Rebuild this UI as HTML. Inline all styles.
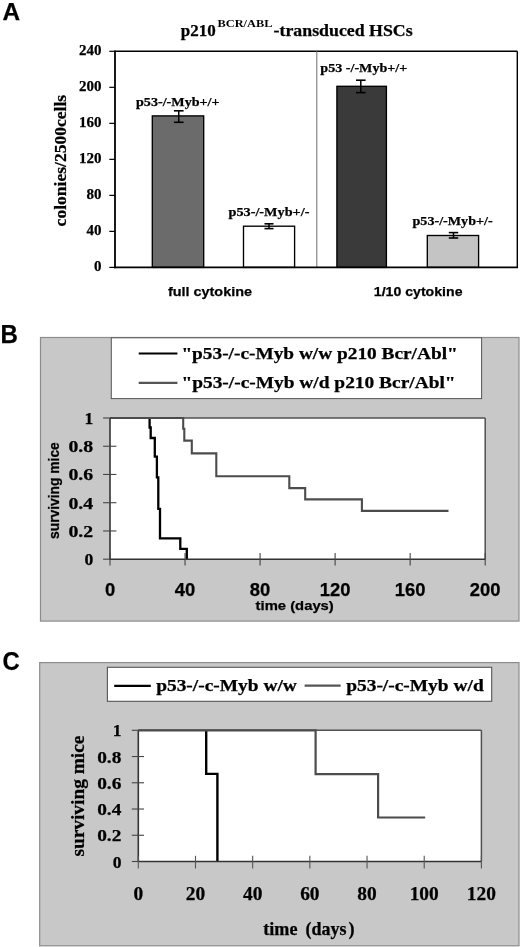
<!DOCTYPE html>
<html><head><meta charset="utf-8"><title>Figure</title>
<style>
html,body{margin:0;padding:0;background:#fff;}
body{width:520px;height:947px;overflow:hidden;font-family:"Liberation Serif",serif;}
svg{display:block;filter:grayscale(1);}
text{stroke:#000;stroke-width:0.25px;paint-order:stroke;}
</style></head><body>
<svg width="520" height="947" viewBox="0 0 520 947">
<rect x="0" y="0" width="520" height="947" fill="#fff"/>
<text x="2.6" y="19.7" font-family='"Liberation Sans", sans-serif' font-size="24.5" font-weight="bold" fill="#000" text-anchor="start" textLength="17.6" lengthAdjust="spacingAndGlyphs" >A</text>
<text y="36.1" font-family='"Liberation Serif", serif' font-weight="bold" fill="#000"><tspan x="180.7" font-size="17" textLength="35" lengthAdjust="spacingAndGlyphs">p210</tspan><tspan x="217.6" y="26.6" font-size="10.4" stroke-width="0" textLength="54.8" lengthAdjust="spacingAndGlyphs">BCR/ABL</tspan><tspan x="273.6" y="36.1" font-size="17" textLength="139" lengthAdjust="spacingAndGlyphs">-transduced HSCs</tspan></text>
<line x1="115.0" y1="51.3" x2="517.3" y2="51.3" stroke="#000" stroke-width="1.4"/>
<line x1="517.3" y1="51.3" x2="517.3" y2="267.4" stroke="#000" stroke-width="1.4"/>
<line x1="316.8" y1="51.3" x2="316.8" y2="267.4" stroke="#7a7a7a" stroke-width="1.1"/>
<rect x="152.3" y="115.9" width="51.39999999999998" height="151.49999999999997" fill="#6b6b6b" stroke="#000" stroke-width="1.35"/>
<rect x="243.5" y="226.2" width="51.10000000000002" height="41.19999999999999" fill="#ffffff" stroke="#000" stroke-width="1.35"/>
<rect x="336.9" y="86.3" width="49.5" height="181.09999999999997" fill="#3a3a3a" stroke="#000" stroke-width="1.35"/>
<rect x="427.3" y="235.5" width="51.30000000000001" height="31.899999999999977" fill="#c4c4c4" stroke="#000" stroke-width="1.35"/>
<line x1="178.75" y1="110.8" x2="178.75" y2="122.3" stroke="#000" stroke-width="1.5"/>
<line x1="173.9" y1="110.8" x2="183.6" y2="110.8" stroke="#000" stroke-width="1.6"/>
<line x1="173.9" y1="122.3" x2="183.6" y2="122.3" stroke="#000" stroke-width="1.6"/>
<line x1="269.0" y1="223.8" x2="269.0" y2="228.6" stroke="#000" stroke-width="1.5"/>
<line x1="264.5" y1="223.8" x2="273.5" y2="223.8" stroke="#000" stroke-width="1.6"/>
<line x1="264.5" y1="228.6" x2="273.5" y2="228.6" stroke="#000" stroke-width="1.6"/>
<line x1="360.8" y1="80.2" x2="360.8" y2="92.6" stroke="#000" stroke-width="1.5"/>
<line x1="356.0" y1="80.2" x2="365.6" y2="80.2" stroke="#000" stroke-width="1.6"/>
<line x1="356.0" y1="92.6" x2="365.6" y2="92.6" stroke="#000" stroke-width="1.6"/>
<line x1="453.5" y1="232.6" x2="453.5" y2="238.0" stroke="#000" stroke-width="1.5"/>
<line x1="448.8" y1="232.6" x2="458.2" y2="232.6" stroke="#000" stroke-width="1.6"/>
<line x1="448.8" y1="238.0" x2="458.2" y2="238.0" stroke="#000" stroke-width="1.6"/>
<line x1="115.0" y1="50.599999999999994" x2="115.0" y2="268.2" stroke="#000" stroke-width="1.8"/>
<line x1="114.1" y1="267.4" x2="518.0" y2="267.4" stroke="#000" stroke-width="1.6"/>
<line x1="109.3" y1="51.30000000000001" x2="115.0" y2="51.30000000000001" stroke="#000" stroke-width="1.2"/>
<text x="101.6" y="54.90000000000001" font-family='"Liberation Serif", serif' font-size="15" font-weight="bold" fill="#000" text-anchor="end" >240</text>
<line x1="109.3" y1="87.31666666666666" x2="115.0" y2="87.31666666666666" stroke="#000" stroke-width="1.2"/>
<text x="101.6" y="90.91666666666666" font-family='"Liberation Serif", serif' font-size="15" font-weight="bold" fill="#000" text-anchor="end" >200</text>
<line x1="109.3" y1="123.33333333333334" x2="115.0" y2="123.33333333333334" stroke="#000" stroke-width="1.2"/>
<text x="101.6" y="126.93333333333334" font-family='"Liberation Serif", serif' font-size="15" font-weight="bold" fill="#000" text-anchor="end" >160</text>
<line x1="109.3" y1="159.35" x2="115.0" y2="159.35" stroke="#000" stroke-width="1.2"/>
<text x="101.6" y="162.95" font-family='"Liberation Serif", serif' font-size="15" font-weight="bold" fill="#000" text-anchor="end" >120</text>
<line x1="109.3" y1="195.36666666666667" x2="115.0" y2="195.36666666666667" stroke="#000" stroke-width="1.2"/>
<text x="101.6" y="198.96666666666667" font-family='"Liberation Serif", serif' font-size="15" font-weight="bold" fill="#000" text-anchor="end" >80</text>
<line x1="109.3" y1="231.38333333333333" x2="115.0" y2="231.38333333333333" stroke="#000" stroke-width="1.2"/>
<text x="101.6" y="234.98333333333332" font-family='"Liberation Serif", serif' font-size="15" font-weight="bold" fill="#000" text-anchor="end" >40</text>
<line x1="109.3" y1="267.4" x2="115.0" y2="267.4" stroke="#000" stroke-width="1.2"/>
<text x="101.6" y="271.0" font-family='"Liberation Serif", serif' font-size="15" font-weight="bold" fill="#000" text-anchor="end" >0</text>
<text transform="translate(65.8,160.6) rotate(-90)" text-anchor="middle" font-family='"Liberation Serif", serif' font-size="16" font-weight="bold" textLength="131.6" lengthAdjust="spacingAndGlyphs">colonies/2500cells</text>
<text x="136.0" y="105.6" font-family='"Liberation Serif", serif' font-size="13" font-weight="bold" fill="#000" text-anchor="start" textLength="83.6" lengthAdjust="spacingAndGlyphs" >p53-/-Myb+/+</text>
<text x="228.5" y="215.9" font-family='"Liberation Serif", serif' font-size="13" font-weight="bold" fill="#000" text-anchor="start" textLength="80.9" lengthAdjust="spacingAndGlyphs" >p53-/-Myb+/-</text>
<text x="320.3" y="71.6" font-family='"Liberation Serif", serif' font-size="13" font-weight="bold" fill="#000" text-anchor="start" textLength="87.0" lengthAdjust="spacingAndGlyphs" >p53 -/-Myb+/+</text>
<text x="412.5" y="225.0" font-family='"Liberation Serif", serif' font-size="13" font-weight="bold" fill="#000" text-anchor="start" textLength="80.2" lengthAdjust="spacingAndGlyphs" >p53-/-Myb+/-</text>
<text x="167.9" y="295.8" font-family='"Liberation Sans", sans-serif' font-size="13.6" font-weight="bold" fill="#000" text-anchor="start" textLength="84.1" lengthAdjust="spacingAndGlyphs" >full cytokine</text>
<text x="373.8" y="295.8" font-family='"Liberation Sans", sans-serif' font-size="13.6" font-weight="bold" fill="#000" text-anchor="start" textLength="88.7" lengthAdjust="spacingAndGlyphs" >1/10 cytokine</text>
<text x="0.4" y="342.8" font-family='"Liberation Sans", sans-serif' font-size="25" font-weight="bold" fill="#000" text-anchor="start" textLength="17.4" lengthAdjust="spacingAndGlyphs" >B</text>
<rect x="40.5" y="337.5" width="478.5" height="283.6" fill="#c8c8c8" stroke="#8c8c8c" stroke-width="1.2"/>
<rect x="111.3" y="337.8" width="370.3" height="60.8" fill="#ffffff" stroke="#555" stroke-width="1.0"/>
<line x1="138.7" y1="353.5" x2="177.4" y2="353.5" stroke="#000" stroke-width="2.2"/>
<line x1="138.7" y1="382.8" x2="177.4" y2="382.8" stroke="#555" stroke-width="2.2"/>
<text x="181.4" y="359.0" font-family='"Liberation Serif", serif' font-size="17" font-weight="bold" fill="#000" text-anchor="start" textLength="276.4" lengthAdjust="spacingAndGlyphs" >"p53-/-c-Myb w/w p210 Bcr/Abl"</text>
<text x="181.4" y="387.9" font-family='"Liberation Serif", serif' font-size="17" font-weight="bold" fill="#000" text-anchor="start" textLength="274.2" lengthAdjust="spacingAndGlyphs" >"p53-/-c-Myb w/d p210 Bcr/Abl"</text>
<rect x="110.0" y="418.0" width="375.2" height="141.20000000000005" fill="#ffffff" stroke="none" stroke-width="0"/>
<line x1="110.0" y1="418.0" x2="485.2" y2="418.0" stroke="#505050" stroke-width="1.6"/>
<line x1="485.2" y1="418.0" x2="485.2" y2="559.2" stroke="#505050" stroke-width="1.5"/>
<polyline points="149.6,418.0 149.6,427.5 150.7,427.5 150.7,438.0 154.8,438.0 154.8,456.7 156.9,456.7 156.9,477.4 158.3,477.4 158.3,508.8 160.0,508.8 160.0,538.3 180.3,538.3 180.3,548.8 186.8,548.8 186.8,559.2" fill="none" stroke="#000" stroke-width="2.3" stroke-linejoin="miter" stroke-linecap="butt"/>
<polyline points="110.0,418.0 183.2,418.0 183.2,428.8 184.3,428.8 184.3,440.6 191.8,440.6 191.8,453.4 216.3,453.4 216.3,476.3 289.3,476.3 289.3,488.1 305.2,488.1 305.2,499.4 361.9,499.4 361.9,510.9 448.5,510.9" fill="none" stroke="#4c4c4c" stroke-width="2.1" stroke-linejoin="miter" stroke-linecap="butt"/>
<line x1="110.0" y1="418.0" x2="110.0" y2="559.7" stroke="#333" stroke-width="1.6"/>
<line x1="109.5" y1="559.2" x2="485.2" y2="559.2" stroke="#333" stroke-width="1.5"/>
<line x1="103.1" y1="418.0" x2="110.0" y2="418.0" stroke="#444" stroke-width="1.1"/>
<text x="93.2" y="423.9" font-family='"Liberation Serif", serif' font-size="17.6" font-weight="bold" fill="#000" text-anchor="end" >1</text>
<line x1="103.1" y1="446.24" x2="116.4" y2="446.24" stroke="#444" stroke-width="1.1"/>
<text x="93.2" y="452.14" font-family='"Liberation Serif", serif' font-size="17.6" font-weight="bold" fill="#000" text-anchor="end" textLength="24.8" lengthAdjust="spacingAndGlyphs" >0.8</text>
<line x1="103.1" y1="474.48" x2="116.4" y2="474.48" stroke="#444" stroke-width="1.1"/>
<text x="93.2" y="480.38" font-family='"Liberation Serif", serif' font-size="17.6" font-weight="bold" fill="#000" text-anchor="end" textLength="24.8" lengthAdjust="spacingAndGlyphs" >0.6</text>
<line x1="103.1" y1="502.72" x2="116.4" y2="502.72" stroke="#444" stroke-width="1.1"/>
<text x="93.2" y="508.62" font-family='"Liberation Serif", serif' font-size="17.6" font-weight="bold" fill="#000" text-anchor="end" textLength="24.8" lengthAdjust="spacingAndGlyphs" >0.4</text>
<line x1="103.1" y1="530.96" x2="116.4" y2="530.96" stroke="#444" stroke-width="1.1"/>
<text x="93.2" y="536.86" font-family='"Liberation Serif", serif' font-size="17.6" font-weight="bold" fill="#000" text-anchor="end" textLength="24.8" lengthAdjust="spacingAndGlyphs" >0.2</text>
<line x1="103.1" y1="559.2" x2="110.0" y2="559.2" stroke="#444" stroke-width="1.1"/>
<text x="93.2" y="565.1" font-family='"Liberation Serif", serif' font-size="17.6" font-weight="bold" fill="#000" text-anchor="end" >0</text>
<line x1="110.0" y1="553.0" x2="110.0" y2="565.5" stroke="#444" stroke-width="1.1"/>
<text x="110.0" y="596.3" font-family='"Liberation Sans", sans-serif' font-size="18.4" font-weight="bold" fill="#000" text-anchor="middle" >0</text>
<line x1="185.04000000000002" y1="553.0" x2="185.04000000000002" y2="565.5" stroke="#444" stroke-width="1.1"/>
<text x="185.04000000000002" y="596.3" font-family='"Liberation Sans", sans-serif' font-size="18.4" font-weight="bold" fill="#000" text-anchor="middle" >40</text>
<line x1="260.08000000000004" y1="553.0" x2="260.08000000000004" y2="565.5" stroke="#444" stroke-width="1.1"/>
<text x="260.08000000000004" y="596.3" font-family='"Liberation Sans", sans-serif' font-size="18.4" font-weight="bold" fill="#000" text-anchor="middle" >80</text>
<line x1="335.12" y1="553.0" x2="335.12" y2="565.5" stroke="#444" stroke-width="1.1"/>
<text x="335.12" y="596.3" font-family='"Liberation Sans", sans-serif' font-size="18.4" font-weight="bold" fill="#000" text-anchor="middle" >120</text>
<line x1="410.16" y1="553.0" x2="410.16" y2="565.5" stroke="#444" stroke-width="1.1"/>
<text x="410.16" y="596.3" font-family='"Liberation Sans", sans-serif' font-size="18.4" font-weight="bold" fill="#000" text-anchor="middle" >160</text>
<line x1="485.2" y1="553.0" x2="485.2" y2="565.5" stroke="#444" stroke-width="1.1"/>
<text x="485.2" y="596.3" font-family='"Liberation Sans", sans-serif' font-size="18.4" font-weight="bold" fill="#000" text-anchor="middle" >200</text>
<text transform="translate(59.1,490.6) rotate(-90)" text-anchor="middle" font-family='"Liberation Sans", sans-serif' font-size="14.8" font-weight="bold" textLength="96.8" lengthAdjust="spacingAndGlyphs">surviving mice</text>
<text x="255.6" y="610.2" font-family='"Liberation Sans", sans-serif' font-size="13.5" font-weight="bold" fill="#000" text-anchor="start" textLength="78.2" lengthAdjust="spacingAndGlyphs" >time (days)</text>
<text x="2.4" y="670.4" font-family='"Liberation Sans", sans-serif' font-size="26" font-weight="bold" fill="#000" text-anchor="start" textLength="17.2" lengthAdjust="spacingAndGlyphs" >C</text>
<rect x="39.7" y="662.6" width="479.3" height="283.2" fill="#c8c8c8" stroke="#8c8c8c" stroke-width="1.2"/>
<rect x="107.4" y="667.3" width="384.3" height="34.0" fill="#ffffff" stroke="#555" stroke-width="1.1"/>
<line x1="114.2" y1="685.8" x2="150.8" y2="685.8" stroke="#000" stroke-width="2.2"/>
<line x1="304.6" y1="685.6" x2="340.6" y2="685.6" stroke="#555" stroke-width="2.2"/>
<text x="156.2" y="691.2" font-family='"Liberation Serif", serif' font-size="16.3" font-weight="bold" fill="#000" text-anchor="start" textLength="140.6" lengthAdjust="spacingAndGlyphs" >p53-/-c-Myb w/w</text>
<text x="346.2" y="691.2" font-family='"Liberation Serif", serif' font-size="16.3" font-weight="bold" fill="#000" text-anchor="start" textLength="137.5" lengthAdjust="spacingAndGlyphs" >p53-/-c-Myb w/d</text>
<rect x="138.3" y="730.3" width="343.09999999999997" height="131.20000000000005" fill="#ffffff" stroke="none" stroke-width="0"/>
<line x1="138.3" y1="730.3" x2="481.4" y2="730.3" stroke="#505050" stroke-width="1.5"/>
<line x1="481.4" y1="730.3" x2="481.4" y2="861.5" stroke="#505050" stroke-width="1.5"/>
<polyline points="206.2,730.3 206.2,773.9 217.4,773.9 217.4,861.5" fill="none" stroke="#000" stroke-width="2.4" stroke-linejoin="miter" stroke-linecap="butt"/>
<polyline points="138.3,730.3 315.6,730.3 315.6,774.1 378.1,774.1 378.1,817.5 425.2,817.5" fill="none" stroke="#4c4c4c" stroke-width="2.2" stroke-linejoin="miter" stroke-linecap="butt"/>
<line x1="138.3" y1="730.3" x2="138.3" y2="862.0" stroke="#333" stroke-width="1.6"/>
<line x1="137.8" y1="861.5" x2="481.4" y2="861.5" stroke="#333" stroke-width="1.5"/>
<line x1="131.8" y1="730.3" x2="138.3" y2="730.3" stroke="#444" stroke-width="1.1"/>
<text x="121.4" y="736.3" font-family='"Liberation Serif", serif' font-size="17.5" font-weight="bold" fill="#000" text-anchor="end" >1</text>
<line x1="131.8" y1="756.54" x2="144" y2="756.54" stroke="#444" stroke-width="1.1"/>
<text x="121.4" y="762.54" font-family='"Liberation Serif", serif' font-size="17.5" font-weight="bold" fill="#000" text-anchor="end" textLength="24.2" lengthAdjust="spacingAndGlyphs" >0.8</text>
<line x1="131.8" y1="782.78" x2="144" y2="782.78" stroke="#444" stroke-width="1.1"/>
<text x="121.4" y="788.78" font-family='"Liberation Serif", serif' font-size="17.5" font-weight="bold" fill="#000" text-anchor="end" textLength="24.2" lengthAdjust="spacingAndGlyphs" >0.6</text>
<line x1="131.8" y1="809.02" x2="144" y2="809.02" stroke="#444" stroke-width="1.1"/>
<text x="121.4" y="815.02" font-family='"Liberation Serif", serif' font-size="17.5" font-weight="bold" fill="#000" text-anchor="end" textLength="24.2" lengthAdjust="spacingAndGlyphs" >0.4</text>
<line x1="131.8" y1="835.26" x2="144" y2="835.26" stroke="#444" stroke-width="1.1"/>
<text x="121.4" y="841.26" font-family='"Liberation Serif", serif' font-size="17.5" font-weight="bold" fill="#000" text-anchor="end" textLength="24.2" lengthAdjust="spacingAndGlyphs" >0.2</text>
<line x1="131.8" y1="861.5" x2="138.3" y2="861.5" stroke="#444" stroke-width="1.1"/>
<text x="121.4" y="867.5" font-family='"Liberation Serif", serif' font-size="17.5" font-weight="bold" fill="#000" text-anchor="end" >0</text>
<line x1="138.3" y1="855.8" x2="138.3" y2="868.5" stroke="#555" stroke-width="1.1"/>
<text x="138.3" y="899.8" font-family='"Liberation Serif", serif' font-size="19.4" font-weight="bold" fill="#000" text-anchor="middle" >0</text>
<line x1="195.48333333333335" y1="855.8" x2="195.48333333333335" y2="868.5" stroke="#555" stroke-width="1.1"/>
<text x="195.48333333333335" y="899.8" font-family='"Liberation Serif", serif' font-size="19.4" font-weight="bold" fill="#000" text-anchor="middle" >20</text>
<line x1="252.66666666666666" y1="855.8" x2="252.66666666666666" y2="868.5" stroke="#555" stroke-width="1.1"/>
<text x="252.66666666666666" y="899.8" font-family='"Liberation Serif", serif' font-size="19.4" font-weight="bold" fill="#000" text-anchor="middle" >40</text>
<line x1="309.85" y1="855.8" x2="309.85" y2="868.5" stroke="#555" stroke-width="1.1"/>
<text x="309.85" y="899.8" font-family='"Liberation Serif", serif' font-size="19.4" font-weight="bold" fill="#000" text-anchor="middle" >60</text>
<line x1="367.0333333333333" y1="855.8" x2="367.0333333333333" y2="868.5" stroke="#555" stroke-width="1.1"/>
<text x="367.0333333333333" y="899.8" font-family='"Liberation Serif", serif' font-size="19.4" font-weight="bold" fill="#000" text-anchor="middle" >80</text>
<line x1="424.2166666666667" y1="855.8" x2="424.2166666666667" y2="868.5" stroke="#555" stroke-width="1.1"/>
<text x="424.2166666666667" y="899.8" font-family='"Liberation Serif", serif' font-size="19.4" font-weight="bold" fill="#000" text-anchor="middle" >100</text>
<line x1="481.4" y1="855.8" x2="481.4" y2="868.5" stroke="#555" stroke-width="1.1"/>
<text x="481.4" y="899.8" font-family='"Liberation Serif", serif' font-size="19.4" font-weight="bold" fill="#000" text-anchor="middle" >120</text>
<text transform="translate(84.2,796.1) rotate(-90)" text-anchor="middle" font-family='"Liberation Serif", serif' font-size="19.4" font-weight="bold" textLength="121" lengthAdjust="spacingAndGlyphs">surviving mice</text>
<text y="935.0" font-family='"Liberation Serif", serif' font-size="17.8" font-weight="bold" fill="#000"><tspan x="263.3" textLength="34.2" lengthAdjust="spacingAndGlyphs">time</tspan><tspan x="305.4" textLength="41.0" lengthAdjust="spacingAndGlyphs">(days</tspan><tspan x="348.6" textLength="6.0" lengthAdjust="spacingAndGlyphs">)</tspan></text>
</svg>
</body></html>
